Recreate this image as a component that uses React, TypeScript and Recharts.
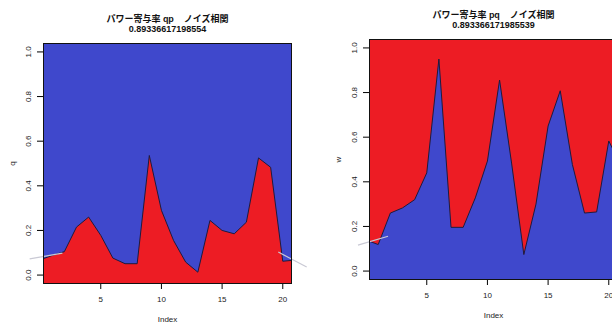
import React from 'react';
import { AreaChart, Area, XAxis, YAxis, CartesianGrid, ReferenceLine } from 'recharts';

// index 1..20 and the two series
const indexes = [1, 2, 3, 4, 5, 6, 7, 8, 9, 10, 11, 12, 13, 14, 15, 16, 17, 18, 19, 20];
const qValues = [0.088, 0.105, 0.215, 0.26, 0.178, 0.076, 0.051, 0.051, 0.536, 0.29,
  0.155, 0.058, 0.013, 0.245, 0.2, 0.185, 0.237, 0.525, 0.483, 0.062];
const wValues = [0.119, 0.26, 0.283, 0.32, 0.44, 0.95, 0.196, 0.196, 0.328, 0.493,
  0.856, 0.48, 0.074, 0.3, 0.65, 0.808, 0.478, 0.26, 0.265, 0.583];
// polygon values where it meets the left / right edge of the plot box
const qEdges = [0.073, 0.066];
const wEdges = [0.134, 0.5];

const xTicks = [5, 10, 15, 20];
const yTicks = [0, 0.2, 0.4, 0.6, 0.8, 1.0];
const X_DOMAIN = [0.24, 20.76];
const Y_DOMAIN = [-0.04, 1.04];

// faint grey strokes that cross the panels
const qNoise = [
  [{ x: -0.86, y: 0.073 }, { x: 1.84, y: 0.098 }],
  [{ x: 19.63, y: 0.103 }, { x: 21.97, y: 0.036 }],
];
const wNoise = [
  [{ x: -0.67, y: 0.116 }, { x: 1.81, y: 0.156 }],
];

const BLUE = '#3F48CC';
const RED = '#ED1C24';
const FONT = "'Liberation Sans', Arial, 'Noto Sans CJK JP', sans-serif";

const W = 320;
const H = 325;
const M = { top: 43, right: 28, bottom: 0, left: 0 };
const Y_AXIS_W = 43;
const X_AXIS_H = 41;

const RotTick = (props: any) => {
  const { x, y, payload } = props;
  const tx = x - 6;
  return (
    <text x={tx} y={y} transform={`rotate(-90 ${tx} ${y})`} textAnchor="middle"
      dominantBaseline="central" fontSize={8} fill="#222" fontFamily={FONT}>
      {Number(payload.value).toFixed(1)}
    </text>
  );
};

const buildRows = (vals: number[], edges: number[]) => [
  { index: X_DOMAIN[0], v: edges[0] },
  ...indexes.map((i, k) => ({ index: i, v: vals[k] })),
  { index: X_DOMAIN[1], v: edges[1] },
];

interface PanelProps {
  title1: string;
  title2: string;
  yLabel: string;
  values: number[];
  edges: number[];
  noise: { x: number; y: number }[][];
  bg: string;
  fill: string;
  left: number;
  top: number;
}

const Panel: React.FC<PanelProps> = ({ title1, title2, yLabel, values, edges, noise, bg, fill, left, top }) => {
  const data = buildRows(values, edges);
  const plotW = W - M.left - M.right - Y_AXIS_W;
  const plotH = H - M.top - M.bottom - X_AXIS_H;
  const plotL = M.left + Y_AXIS_W;
  return (
    <div style={{ position: 'absolute', left, top, width: W, height: H }}>
      <div style={{
        position: 'absolute', left: plotL, top: 15.3, width: plotW, textAlign: 'center',
        fontFamily: FONT, fontWeight: 'bold', fontSize: 9, lineHeight: '9.5px', color: '#111',
        whiteSpace: 'pre',
      }}>
        <div>{title1}</div>
        <div>{title2}</div>
      </div>
      <AreaChart width={W} height={H} data={data} margin={M} style={{ overflow: 'visible' }}>
        <CartesianGrid horizontal={false} vertical={false} fill={bg} />
        <XAxis type="number" dataKey="index" domain={X_DOMAIN} allowDataOverflow ticks={xTicks}
          height={X_AXIS_H} axisLine={false} tickLine={{ stroke: '#000' }} tickSize={5} tickMargin={7}
          tick={{ fontSize: 8, fill: '#222', fontFamily: FONT }}
          label={{
            value: 'Index',
            content: () => (
              <text x={plotL + plotW / 2} y={H - 3} textAnchor="middle" fontSize={8} fill="#222"
                fontFamily={FONT}>Index</text>
            ),
          }} />
        <YAxis type="number" domain={Y_DOMAIN} allowDataOverflow ticks={yTicks} width={Y_AXIS_W}
          axisLine={false} tickLine={{ stroke: '#000' }} tickSize={6} tick={<RotTick />}
          label={{
            value: yLabel,
            content: () => {
              const lx = M.left + 12.5;
              const ly = M.top + plotH / 2;
              return (
                <text x={lx} y={ly} transform={`rotate(-90 ${lx} ${ly})`} textAnchor="middle"
                  dominantBaseline="central" fontSize={8} fill="#222" fontFamily={FONT}>{yLabel}</text>
              );
            },
          }} />
        <Area type="linear" dataKey="v" stroke="#1e1b3e" strokeWidth={1} fill={fill} fillOpacity={1}
          baseValue="dataMin" dot={false} activeDot={false} isAnimationActive={false} />
        {noise.map((seg, i) => (
          <ReferenceLine key={i} segment={seg} stroke="#c9c9d4" strokeWidth={1.2} ifOverflow="visible" />
        ))}
      </AreaChart>
      <div style={{
        position: 'absolute', left: plotL, top: M.top, width: plotW, height: plotH,
        border: '1px solid #111', boxSizing: 'border-box', pointerEvents: 'none',
      }} />
    </div>
  );
};

export default function App() {
  return (
    <div style={{ position: 'absolute', left: 0, top: 0, width: 612, height: 325, overflow: 'hidden', background: '#fff' }}>
      <Panel title1={'パワー寄与率 qp    ノイズ相関'} title2="0.89336617198554" yLabel="q"
        values={qValues} edges={qEdges} noise={qNoise} bg={BLUE} fill={RED} left={0} top={0} />
      <Panel title1={'パワー寄与率 pq    ノイズ相関'} title2="0.893366171985539" yLabel="w"
        values={wValues} edges={wEdges} noise={wNoise} bg={RED} fill={BLUE} left={326} top={-4} />
    </div>
  );
}
